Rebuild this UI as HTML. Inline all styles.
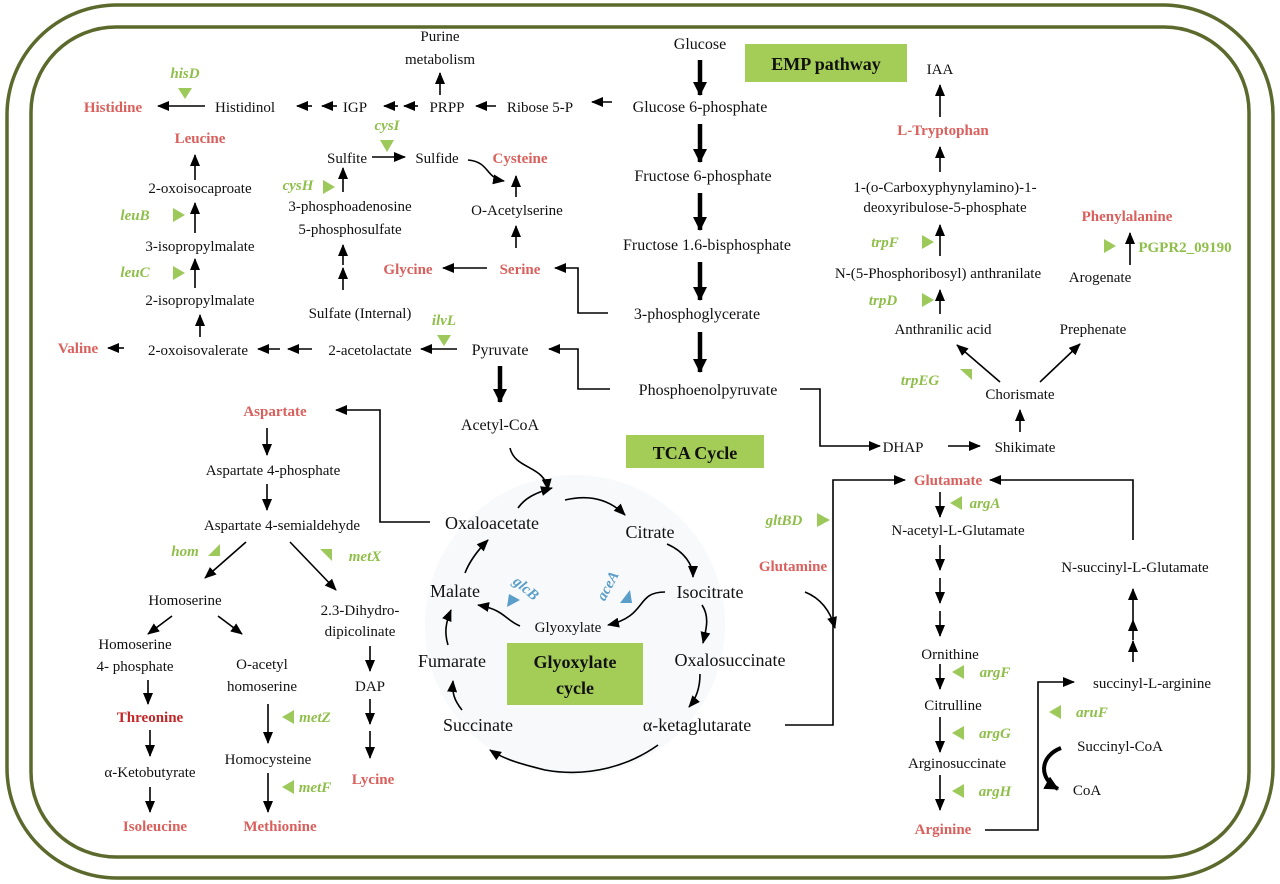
<!DOCTYPE html>
<html><head><meta charset="utf-8"><style>
html,body{margin:0;padding:0;background:#fff;}
svg{display:block;}
text{font-family:"Liberation Serif",serif;font-size:15px;fill:#111;text-anchor:middle;}
.r{fill:#d9605c;font-weight:bold;}
.dr{fill:#c0282a;font-weight:bold;}
.g{fill:#8fbf4a;font-style:italic;font-weight:bold;}
.b{fill:#5a9ec9;font-style:italic;font-weight:bold;}
.big{font-size:18px;}
.lbl{font-weight:bold;font-size:18px;}
line,path,polyline{stroke:#000;stroke-width:1.6;fill:none;}
.t{stroke-width:4.5;}
.gt{fill:#9cc95a;stroke:none;}
.bt{fill:#5a9ec9;stroke:none;}
</style></head><body>
<svg width="1280" height="884" viewBox="0 0 1280 884" xmlns="http://www.w3.org/2000/svg">
<defs>
<marker id="a" markerUnits="userSpaceOnUse" markerWidth="12" markerHeight="10" refX="11" refY="5" orient="auto"><path d="M0,0 L12,5 L0,10 z" style="fill:#000;stroke:none"/></marker>
<marker id="ta" markerUnits="userSpaceOnUse" markerWidth="14" markerHeight="14" refX="13" refY="7" orient="auto"><path d="M0,0 L14,7 L0,14 z" style="fill:#000;stroke:none"/></marker>
</defs>
<rect x="7" y="5" width="1266" height="873" rx="110" style="fill:none;stroke:#5b6a2c;stroke-width:3.5"/>
<rect x="31" y="27" width="1218" height="830" rx="85" style="fill:none;stroke:#5b6a2c;stroke-width:3.5"/>
<circle cx="575" cy="625" r="150" style="fill:#f8f9fa;stroke:none"/>

<!-- boxes -->
<rect x="745" y="44" width="162" height="38" style="fill:#a4cd57;stroke:none"/>
<text x="826" y="70" class="lbl">EMP pathway</text>
<rect x="626" y="435" width="138" height="33" style="fill:#a4cd57;stroke:none"/>
<text x="695" y="459" class="lbl">TCA Cycle</text>
<rect x="507" y="643" width="136" height="62" style="fill:#a4cd57;stroke:none"/>
<text x="575" y="668" class="lbl">Glyoxylate</text>
<text x="575" y="694" class="lbl">cycle</text>

<!-- EMP -->
<text x="700" y="49" class="big" style="font-size:16px">Glucose</text>
<text x="700" y="112" style="font-size:16px">Glucose 6-phosphate</text>
<text x="703" y="181" style="font-size:16px">Fructose 6-phosphate</text>
<text x="707" y="250" style="font-size:16px">Fructose 1.6-bisphosphate</text>
<text x="697" y="319" style="font-size:16px">3-phosphoglycerate</text>
<text x="708" y="395" style="font-size:16px">Phosphoenolpyruvate</text>
<line x1="700" y1="60" x2="700" y2="95" class="t" marker-end="url(#ta)"/>
<line x1="700" y1="124" x2="700" y2="162" class="t" marker-end="url(#ta)"/>
<line x1="700" y1="193" x2="700" y2="230" class="t" marker-end="url(#ta)"/>
<line x1="700" y1="262" x2="700" y2="300" class="t" marker-end="url(#ta)"/>
<line x1="700" y1="332" x2="700" y2="372" class="t" marker-end="url(#ta)"/>

<!-- top row -->
<line x1="612" y1="102" x2="592" y2="102" marker-end="url(#a)"/>
<text x="540" y="112">Ribose 5-P</text>
<line x1="496" y1="106" x2="476" y2="106" marker-end="url(#a)"/>
<text x="447" y="112">PRPP</text>
<line x1="440" y1="95" x2="440" y2="73" marker-end="url(#a)"/>
<text x="440" y="41">Purine</text>
<text x="440" y="64">metabolism</text>
<line x1="418" y1="106" x2="404" y2="106" marker-end="url(#a)"/>
<line x1="398" y1="106" x2="384" y2="106" marker-end="url(#a)"/>
<text x="355" y="112">IGP</text>
<line x1="337" y1="106" x2="322" y2="106" marker-end="url(#a)"/>
<line x1="312" y1="106" x2="297" y2="106" marker-end="url(#a)"/>
<text x="245" y="112">Histidinol</text>
<line x1="205" y1="106" x2="158" y2="106" marker-end="url(#a)"/>
<text x="113" y="112" class="r">Histidine</text>
<text x="185" y="78" class="g">hisD</text>
<polygon points="178,88 192,88 185,99" class="gt"/>

<!-- leucine -->
<text x="200" y="143" class="r">Leucine</text>
<line x1="195" y1="180" x2="195" y2="155" marker-end="url(#a)"/>
<text x="200" y="193">2-oxoisocaproate</text>
<line x1="195" y1="233" x2="195" y2="203" marker-end="url(#a)"/>
<text x="135" y="220" class="g">leuB</text>
<polygon points="173,208 173,222 185,215" class="gt"/>
<text x="200" y="251">3-isopropylmalate</text>
<line x1="195" y1="288" x2="195" y2="259" marker-end="url(#a)"/>
<text x="135" y="277" class="g">leuC</text>
<polygon points="173,266 173,280 185,273" class="gt"/>
<text x="200" y="305">2-isopropylmalate</text>
<line x1="200" y1="337" x2="200" y2="315" marker-end="url(#a)"/>
<text x="198" y="355">2-oxoisovalerate</text>
<line x1="124" y1="348" x2="108" y2="348" marker-end="url(#a)"/>
<text x="78" y="353" class="r">Valine</text>
<line x1="280" y1="349" x2="258" y2="349" marker-end="url(#a)"/>
<line x1="312" y1="349" x2="288" y2="349" marker-end="url(#a)"/>
<text x="370" y="355">2-acetolactate</text>
<line x1="457" y1="349" x2="421" y2="349" marker-end="url(#a)"/>
<text x="500" y="355" style="font-size:16px">Pyruvate</text>
<text x="444" y="325" class="g">ilvL</text>
<polygon points="437,335 451,335 444,346" class="gt"/>

<!-- sulfur -->
<text x="347" y="163">Sulfite</text>
<line x1="372" y1="157" x2="405" y2="157" marker-end="url(#a)"/>
<text x="437" y="163">Sulfide</text>
<text x="387" y="130" class="g">cysI</text>
<polygon points="380,140 394,140 387,152" class="gt"/>
<text x="298" y="190" class="g">cysH</text>
<polygon points="323,180 323,194 335,187" class="gt"/>
<line x1="343" y1="192" x2="343" y2="168" marker-end="url(#a)"/>
<text x="350" y="211">3-phosphoadenosine</text>
<text x="350" y="234">5-phosphosulfate</text>
<line x1="343" y1="265" x2="343" y2="245" marker-end="url(#a)"/>
<line x1="343" y1="290" x2="343" y2="268" marker-end="url(#a)"/>
<text x="360" y="318">Sulfate (Internal)</text>
<text x="520" y="163" class="r">Cysteine</text>
<path d="M468,160 C490,162 485,178 504,181" marker-end="url(#a)"/>
<line x1="516" y1="197" x2="516" y2="176" marker-end="url(#a)"/>
<text x="517" y="215">O-Acetylserine</text>
<line x1="516" y1="248" x2="516" y2="226" marker-end="url(#a)"/>
<text x="520" y="274" class="r">Serine</text>
<line x1="487" y1="268" x2="443" y2="268" marker-end="url(#a)"/>
<text x="408" y="274" class="r">Glycine</text>
<polyline points="608,313 578,313 578,268 555,268" marker-end="url(#a)"/>
<polyline points="610,389 578,389 578,349 549,349" marker-end="url(#a)"/>
<line x1="500" y1="366" x2="500" y2="402" class="t" marker-end="url(#ta)"/>
<text x="500" y="430" style="font-size:16px">Acetyl-CoA</text>

<!-- aspartate -->
<text x="275" y="416" class="r">Aspartate</text>
<polyline points="430,522 380,522 380,410 336,410" marker-end="url(#a)"/>
<line x1="267" y1="428" x2="267" y2="455" marker-end="url(#a)"/>
<text x="273" y="475">Aspartate 4-phosphate</text>
<line x1="267" y1="484" x2="267" y2="510" marker-end="url(#a)"/>
<text x="282" y="530">Aspartate 4-semialdehyde</text>
<text x="185" y="556" class="g">hom</text>
<polygon points="208,556 220,544 220,556" class="gt"/>
<text x="365" y="561" class="g">metX</text>
<polygon points="320,549 332,549 332,561" class="gt"/>
<line x1="246" y1="542" x2="205" y2="578" marker-end="url(#a)"/>
<line x1="290" y1="542" x2="336" y2="590" marker-end="url(#a)"/>
<text x="185" y="605">Homoserine</text>
<line x1="172" y1="616" x2="148" y2="634" marker-end="url(#a)"/>
<line x1="218" y1="616" x2="242" y2="634" marker-end="url(#a)"/>
<text x="135" y="649">Homoserine</text>
<text x="135" y="671">4- phosphate</text>
<text x="262" y="669">O-acetyl</text>
<text x="262" y="691">homoserine</text>
<text x="360" y="615">2.3-Dihydro-</text>
<text x="360" y="636">dipicolinate</text>
<line x1="370" y1="646" x2="370" y2="671" marker-end="url(#a)"/>
<text x="370" y="691">DAP</text>
<line x1="370" y1="699" x2="370" y2="724" marker-end="url(#a)"/>
<line x1="370" y1="731" x2="370" y2="758" marker-end="url(#a)"/>
<text x="373" y="784" class="r">Lycine</text>
<line x1="148" y1="680" x2="148" y2="704" marker-end="url(#a)"/>
<text x="150" y="722" class="dr">Threonine</text>
<line x1="150" y1="730" x2="150" y2="756" marker-end="url(#a)"/>
<text x="150" y="777">α-Ketobutyrate</text>
<line x1="150" y1="787" x2="150" y2="812" marker-end="url(#a)"/>
<text x="155" y="831" class="r">Isoleucine</text>
<line x1="268" y1="704" x2="268" y2="743" marker-end="url(#a)"/>
<text x="315" y="722" class="g">metZ</text>
<polygon points="282,717 294,710 294,724" class="gt"/>
<text x="268" y="764">Homocysteine</text>
<line x1="268" y1="773" x2="268" y2="812" marker-end="url(#a)"/>
<text x="315" y="792" class="g">metF</text>
<polygon points="282,787 294,780 294,794" class="gt"/>
<text x="280" y="831" class="r">Methionine</text>

<!-- TCA -->
<path d="M510,448 C515,470 545,465 548,490" marker-end="url(#a)"/>
<text x="492" y="529" class="big">Oxaloacetate</text>
<path d="M518,508 C525,498 535,493 552,488" marker-end="url(#a)"/>
<path d="M565,500 C590,494 610,500 625,515" marker-end="url(#a)"/>
<text x="650" y="538" class="big">Citrate</text>
<path d="M667,544 C685,552 693,565 693,577" marker-end="url(#a)"/>
<text x="710" y="598" class="big">Isocitrate</text>
<path d="M702,605 C710,617 706,630 703,643" marker-end="url(#a)"/>
<text x="730" y="666" class="big">Oxalosuccinate</text>
<path d="M700,674 C700,690 695,700 689,707" marker-end="url(#a)"/>
<text x="697" y="731" class="big">α-ketaglutarate</text>
<path d="M658,745 C630,765 590,778 545,770 C525,765 505,760 490,750" marker-end="url(#a)"/>
<text x="478" y="731" class="big">Succinate</text>
<path d="M462,710 C454,700 452,693 453,681" marker-end="url(#a)"/>
<text x="452" y="667" class="big">Fumarate</text>
<path d="M448,645 C444,632 446,622 451,610" marker-end="url(#a)"/>
<text x="455" y="597" class="big">Malate</text>
<path d="M465,573 C470,560 478,550 488,540" marker-end="url(#a)"/>
<text x="568" y="632">Glyoxylate</text>
<path d="M520,626 C505,620 505,610 478,605" marker-end="url(#a)"/>
<path d="M665,592 C635,592 648,616 608,625" marker-end="url(#a)"/>
<text x="523" y="592" class="b" transform="rotate(40 523 592)">glcB</text>
<text x="612" y="588" class="b" transform="rotate(-62 612 588)">aceA</text>
<polygon points="507,607 520,600 509,594" class="bt"/>
<polygon points="620,603 632,603 630,590" class="bt"/>

<!-- middle right connectors -->
<polyline points="800,389 820,389 820,446 880,446" marker-end="url(#a)"/>
<text x="903" y="452">DHAP</text>
<line x1="948" y1="446" x2="980" y2="446" marker-end="url(#a)"/>
<text x="1025" y="452">Shikimate</text>
<line x1="1020" y1="432" x2="1020" y2="410" marker-end="url(#a)"/>
<text x="1020" y="399">Chorismate</text>
<line x1="1000" y1="382" x2="957" y2="345" marker-end="url(#a)"/>
<line x1="1040" y1="382" x2="1080" y2="344" marker-end="url(#a)"/>
<text x="920" y="385" class="g">trpEG</text>
<polygon points="960,369 972,369 972,380" class="gt"/>
<text x="943" y="334">Anthranilic acid</text>
<line x1="940" y1="314" x2="940" y2="290" marker-end="url(#a)"/>
<text x="883" y="305" class="g">trpD</text>
<polygon points="922,293 922,307 934,300" class="gt"/>
<text x="938" y="278">N-(5-Phosphoribosyl) anthranilate</text>
<line x1="940" y1="256" x2="940" y2="225" marker-end="url(#a)"/>
<text x="885" y="247" class="g">trpF</text>
<polygon points="922,235 922,249 934,242" class="gt"/>
<text x="945" y="192">1-(o-Carboxyphynylamino)-1-</text>
<text x="945" y="212">deoxyribulose-5-phosphate</text>
<line x1="940" y1="172" x2="940" y2="147" marker-end="url(#a)"/>
<text x="943" y="135" class="r">L-Tryptophan</text>
<line x1="940" y1="117" x2="940" y2="85" marker-end="url(#a)"/>
<text x="940" y="74">IAA</text>
<text x="1093" y="334">Prephenate</text>
<text x="1100" y="282">Arogenate</text>
<line x1="1130" y1="265" x2="1130" y2="233" marker-end="url(#a)"/>
<text x="1127" y="221" class="r">Phenylalanine</text>
<polygon points="1104,239 1104,253 1116,246" class="gt"/>
<text x="1185" y="252" class="g" style="font-style:normal">PGPR2_09190</text>

<!-- glutamate / arginine -->
<polyline points="785,725 833,725 833,480 905,480" marker-end="url(#a)"/>
<text x="948" y="485" class="r">Glutamate</text>
<text x="784" y="525" class="g">gltBD</text>
<polygon points="817,513 817,527 830,520" class="gt"/>
<text x="793" y="571" class="r">Glutamine</text>
<path d="M805,592 C820,598 830,610 835,628" marker-end="url(#a)"/>
<line x1="940" y1="492" x2="940" y2="517" marker-end="url(#a)"/>
<polygon points="950,503 962,496 962,510" class="gt"/>
<text x="985" y="508" class="g">argA</text>
<text x="958" y="535">N-acetyl-L-Glutamate</text>
<line x1="940" y1="545" x2="940" y2="570" marker-end="url(#a)"/>
<line x1="940" y1="578" x2="940" y2="603" marker-end="url(#a)"/>
<line x1="940" y1="611" x2="940" y2="636" marker-end="url(#a)"/>
<text x="950" y="659">Ornithine</text>
<line x1="940" y1="664" x2="940" y2="689" marker-end="url(#a)"/>
<polygon points="952,672 964,665 964,679" class="gt"/>
<text x="995" y="677" class="g">argF</text>
<text x="953" y="710">Citrulline</text>
<line x1="940" y1="717" x2="940" y2="752" marker-end="url(#a)"/>
<polygon points="952,733 964,726 964,740" class="gt"/>
<text x="995" y="738" class="g">argG</text>
<text x="957" y="768">Arginosuccinate</text>
<line x1="940" y1="775" x2="940" y2="810" marker-end="url(#a)"/>
<polygon points="952,791 964,784 964,798" class="gt"/>
<text x="995" y="796" class="g">argH</text>
<text x="943" y="834" class="r">Arginine</text>
<polyline points="985,830 1038,830 1038,682 1074,682" marker-end="url(#a)"/>
<text x="1152" y="688">succinyl-L-arginine</text>
<polygon points="1049,712 1061,705 1061,719" class="gt"/>
<text x="1092" y="717" class="g">aruF</text>
<text x="1120" y="751">Succinyl-CoA</text>
<text x="1087" y="795">CoA</text>
<path d="M1061,748 C1040,756 1038,778 1058,789" class="t" style="stroke-width:4" marker-end="url(#ta)"/>
<line x1="1133" y1="662" x2="1133" y2="641" marker-end="url(#a)"/>
<line x1="1133" y1="640" x2="1133" y2="620" marker-end="url(#a)"/>
<line x1="1133" y1="620" x2="1133" y2="589" marker-end="url(#a)"/>
<text x="1135" y="572">N-succinyl-L-Glutamate</text>
<polyline points="1133,540 1133,480 990,480" marker-end="url(#a)"/>
</svg>
</body></html>
